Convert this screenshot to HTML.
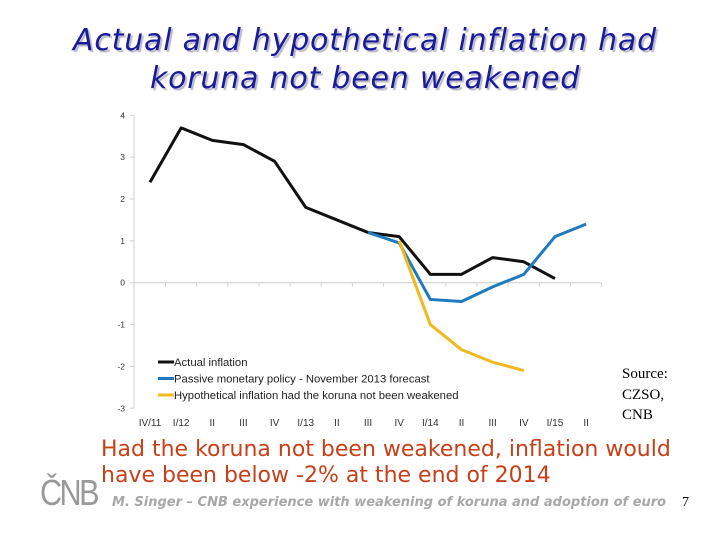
<!DOCTYPE html>
<html><head><meta charset="utf-8"><style>
body{margin:0;width:720px;height:540px;background:#fff;overflow:hidden;position:relative;font-family:"DejaVu Sans","Liberation Sans",sans-serif}
.t{position:absolute;white-space:nowrap}
</style></head><body>
<div class="t" style="left:0;width:730px;text-align:center;top:22px;font-size:30px;letter-spacing:0.8px;line-height:38px;font-style:italic;color:#1a1a9a;text-shadow:2px 2px 1px #b8b8c8">Actual and hypothetical inflation had<br>koruna not been weakened</div>
<svg width="720" height="540" style="position:absolute;left:0;top:0" id="svg"></svg>
<div class="t" style="left:622px;top:364px;font-family:'Liberation Serif',serif;font-size:15px;line-height:20.5px;color:#000">Source:<br>CZSO,<br>CNB</div>
<div class="t" style="left:101px;top:437px;font-size:22px;line-height:26px;color:#c8401a">Had the koruna not been weakened, inflation would<br>have been below -2% at the end of 2014</div>
<div class="t" style="left:40px;top:472px;font-family:'Liberation Sans',sans-serif;font-size:36px;color:#999;letter-spacing:-3px;transform:scaleX(0.85);transform-origin:left">ČNB</div>
<div class="t" style="left:112px;top:495px;font-size:13px;font-style:italic;font-weight:bold;color:#a8a8a8">M. Singer – CNB experience with weakening of koruna and adoption of euro</div>
<div class="t" style="left:682px;top:495px;font-family:'Liberation Serif',serif;font-size:14px;color:#000">7</div>
<script>
const categories=["IV/11","I/12","II","III","IV","I/13","II","III","IV","I/14","II","III","IV","I/15","II"];
const actual=[2.4,3.7,3.4,3.3,2.9,1.8,1.5,1.2,1.1,0.2,0.2,0.6,0.5,0.1,null];
const passive=[null,null,null,null,null,null,null,1.2,0.95,-0.4,-0.45,-0.1,0.2,1.1,1.4];
const hypothetical=[null,null,null,null,null,null,null,null,1.0,-1.0,-1.6,-1.9,-2.1,null,null];
const yTicks=[4,3,2,1,0,-1,-2,-3];
const svg=document.getElementById('svg');const NS='http://www.w3.org/2000/svg';
const x=i=>150+i*31.15;const y=v=>282.7-v*41.85;
function mk(tag,attrs,name){const e=document.createElementNS(NS,tag);for(const k in attrs)e.setAttribute(k,attrs[k]);


svg.appendChild(e);return e;}
mk('line',{x1:134,y1:y(4),x2:134,y2:y(-3),stroke:'#d0d0d0','stroke-width':1},'y-axis');
yTicks.forEach(v=>{mk('line',{x1:130,y1:y(v),x2:134,y2:y(v),stroke:'#d0d0d0'},'y-tick');
const t=mk('text',{x:125,y:y(v)+3,'font-size':8.5,'text-anchor':'end',fill:'#333','font-family':'Liberation Sans'},'y-tick-label');t.textContent=v;});
mk('line',{x1:134,y1:y(0),x2:601,y2:y(0),stroke:'#d0d0d0','stroke-width':1.2},'x-axis');
categories.forEach((c,i)=>{mk('line',{x1:x(i)+15.5,y1:y(0),x2:x(i)+15.5,y2:y(0)+4,stroke:'#d0d0d0'},'x-tick');
const t=mk('text',{x:x(i),y:426,'font-size':10,'text-anchor':'middle',fill:'#333','font-family':'Liberation Sans'},'x-tick-label');t.textContent=c;});
function line(d,col,name){let p='';d.forEach((v,i)=>{if(v!==null)p+=(p?'L':'M')+x(i)+','+y(v);});
mk('path',{d:p,fill:'none',stroke:col,'stroke-width':3,'stroke-linejoin':'round'},name);}
line(actual,'#111','actual-inflation-line');
line(passive,'#1f7bbf','passive-policy-line');
line(hypothetical,'#f0b91e','hypothetical-inflation-line');
[['Actual inflation','#111'],['Passive monetary policy - November 2013 forecast','#1f7bbf'],['Hypothetical inflation had the koruna not been weakened','#f0b91e']].forEach((l,i)=>{
const yy=362+i*16.5;mk('line',{x1:158,y1:yy,x2:174,y2:yy,stroke:l[1],'stroke-width':3},'legend-swatch');
const t=mk('text',{x:174,y:yy+4,'font-size':11.3,fill:'#222','font-family':'Liberation Sans'},'legend-entry');t.textContent=l[0];});
</script>
</body></html>
